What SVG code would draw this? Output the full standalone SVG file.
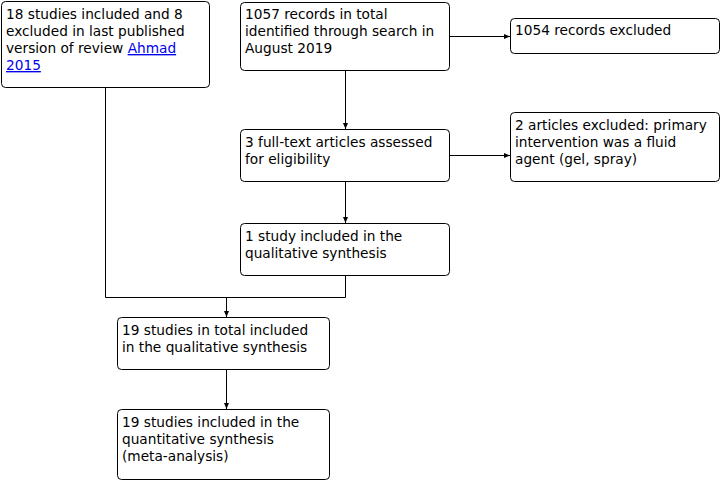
<svg xmlns="http://www.w3.org/2000/svg" width="721" height="481" viewBox="0 0 721 481">
<defs>
<marker id="ah" viewBox="0 0 6 6" refX="6" refY="3" markerWidth="6" markerHeight="6" markerUnits="userSpaceOnUse" orient="auto">
<path d="M0,0.5 L6,3 L0,5.5 Z" fill="#000"/>
</marker>
<style>
.box{fill:#fff;stroke:#000;stroke-width:1}
.t{font-family:"DejaVu Sans",Verdana,sans-serif;font-size:13.7px;fill:#000}
.lk{fill:#0000ee;text-decoration:underline}
.c{fill:none;stroke:#000;stroke-width:1}
</style>
</defs>
<rect width="721" height="481" fill="#fff"/>
<g id="connectors">
<path class="c" d="M105.5,87 V297.5 H345.5 V275"/>
<path class="c" d="M226.5,297.5 V317" marker-end="url(#ah)"/>
<path class="c" d="M345.5,70 V129" marker-end="url(#ah)"/>
<path class="c" d="M449,36.5 H510" marker-end="url(#ah)"/>
<path class="c" d="M449,155.5 H510" marker-end="url(#ah)"/>
<path class="c" d="M345.5,181 V223" marker-end="url(#ah)"/>
<path class="c" d="M226.5,369 V409" marker-end="url(#ah)"/>
</g>
<g id="prev">
<rect class="box" x="1.5" y="1.5" width="208" height="86" rx="4"/>
<text class="t" x="6" y="19">18 studies included and 8</text>
<text class="t" x="6" y="36">excluded in last published</text>
<text class="t" x="6" y="53">version of review <tspan class="lk">Ahmad</tspan></text>
<text class="t lk" x="6" y="70">2015</text>
</g>
<g id="records">
<rect class="box" x="240.5" y="2.5" width="209" height="68" rx="4"/>
<text class="t" x="245" y="19">1057 records in total</text>
<text class="t" x="245" y="36">identified through search in</text>
<text class="t" x="245" y="53">August 2019</text>
</g>
<g id="excluded1">
<rect class="box" x="510.5" y="18.5" width="209" height="35" rx="4"/>
<text class="t" x="515" y="35">1054 records excluded</text>
</g>
<g id="fulltext">
<rect class="box" x="240.5" y="129.5" width="209" height="52" rx="4"/>
<text class="t" x="245" y="147">3 full-text articles assessed</text>
<text class="t" x="245" y="164">for eligibility</text>
</g>
<g id="excluded2">
<rect class="box" x="510.5" y="112.5" width="209" height="69" rx="4"/>
<text class="t" x="515" y="130">2 articles excluded: primary</text>
<text class="t" x="515" y="147">intervention was a fluid</text>
<text class="t" x="515" y="164">agent (gel, spray)</text>
</g>
<g id="onestudy">
<rect class="box" x="240.5" y="223.5" width="209" height="52" rx="4"/>
<text class="t" x="245" y="241">1 study included in the</text>
<text class="t" x="245" y="258">qualitative synthesis</text>
</g>
<g id="total">
<rect class="box" x="117.5" y="317.5" width="212" height="52" rx="4"/>
<text class="t" x="122" y="335">19 studies in total included</text>
<text class="t" x="122" y="352">in the qualitative synthesis</text>
</g>
<g id="quant">
<rect class="box" x="117.5" y="409.5" width="212" height="70" rx="4"/>
<text class="t" x="122" y="427">19 studies included in the</text>
<text class="t" x="122" y="444">quantitative synthesis</text>
<text class="t" x="122" y="461">(meta-analysis)</text>
</g>
</svg>
